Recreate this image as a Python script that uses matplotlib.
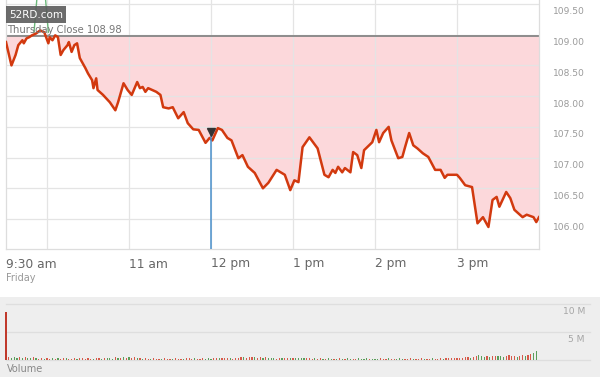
import numpy as np
import matplotlib
matplotlib.use('Agg')
import matplotlib.pyplot as plt
import matplotlib.transforms as mtransforms

# price, minutes after 9:30 am
t = [0, 4, 7, 9, 12, 13, 15, 17, 19, 22, 25, 28, 31, 32, 34, 36, 38, 40, 42, 45,
     46, 48, 50, 52, 54, 58, 60, 63, 64, 66, 67, 71, 76, 80, 82, 86, 89, 92, 96, 98,
     100, 102, 104, 107, 110, 113, 115, 119, 122, 126, 130, 133, 137, 141, 146, 149, 151, 155, 158, 162,
     165, 170, 173, 177, 182, 188, 192, 198, 204, 208, 211, 214, 217, 222, 228, 233, 236, 239, 241, 243,
     246, 248, 252, 254, 257, 260, 262, 268, 271, 273, 276, 280, 282, 287, 290, 292, 295, 298, 301, 305,
     309, 314, 318, 321, 323, 330, 332, 336, 341, 345, 349, 353, 356, 359, 361, 366, 369, 372, 376, 378,
     381, 386, 388, 390]
price = [108.88, 108.50, 108.67, 108.83, 108.91, 108.86, 108.94, 108.96, 108.99, 109.02,
         109.07, 109.04, 108.86, 108.96, 108.91, 108.99, 108.96, 108.67, 108.75, 108.83,
         108.88, 108.72, 108.83, 108.86, 108.62, 108.46, 108.37, 108.26, 108.13, 108.29,
         108.10, 108.02, 107.90, 107.77, 107.90, 108.21, 108.10, 108.02, 108.23, 108.13,
         108.15, 108.07, 108.13, 108.10, 108.07, 108.02, 107.82, 107.80, 107.82, 107.64,
         107.74, 107.56, 107.46, 107.45, 107.24, 107.32, 107.28, 107.48, 107.45, 107.32,
         107.28, 106.99, 107.04, 106.85, 106.75, 106.50, 106.59, 106.80, 106.72, 106.47,
         106.63, 106.60, 107.17, 107.33, 107.15, 106.72, 106.68, 106.80, 106.75, 106.85,
         106.76, 106.83, 106.76, 107.09, 107.04, 106.83, 107.12, 107.25, 107.45, 107.25,
         107.40, 107.50, 107.28, 106.99, 107.01, 107.17, 107.40, 107.20, 107.15, 107.07,
         107.01, 106.80, 106.80, 106.67, 106.72, 106.72, 106.67, 106.55, 106.52, 105.93,
         106.03, 105.87, 106.31, 106.36, 106.20, 106.44, 106.34, 106.15, 106.07, 106.03,
         106.07, 106.03, 105.95, 106.03]
prev_close = 108.98

# volume in millions, one bar every 2 minutes
volume = [8.5, 0.45, 0.3, 0.55, 0.35, 0.5, 0.3, 0.6, 0.4, 0.3, 0.5, 0.35, 0.25, 0.3, 0.2,
          0.3, 0.25, 0.35, 0.2, 0.3, 0.25, 0.3, 0.35, 0.2, 0.25, 0.3, 0.2, 0.3, 0.35, 0.25,
          0.3, 0.25, 0.2, 0.3, 0.35, 0.25, 0.3, 0.4, 0.3, 0.25, 0.45, 0.3, 0.35, 0.5, 0.3,
          0.45, 0.35, 0.55, 0.3, 0.4, 0.25, 0.3, 0.2, 0.25, 0.3, 0.2, 0.25, 0.2, 0.3, 0.25,
          0.2, 0.25, 0.3, 0.2, 0.25, 0.2, 0.3, 0.35, 0.25, 0.3, 0.2, 0.25, 0.3, 0.2, 0.35,
          0.25, 0.3, 0.35, 0.3, 0.4, 0.3, 0.35, 0.3, 0.25, 0.35, 0.3, 0.45, 0.5, 0.4, 0.6,
          0.45, 0.55, 0.4, 0.6, 0.35, 0.5, 0.3, 0.4, 0.3, 0.25, 0.35, 0.3, 0.4, 0.35, 0.3,
          0.35, 0.4, 0.3, 0.35, 0.3, 0.4, 0.3, 0.25, 0.3, 0.2, 0.3, 0.25, 0.2, 0.3, 0.25,
          0.2, 0.25, 0.3, 0.2, 0.25, 0.3, 0.2, 0.25, 0.2, 0.3, 0.25, 0.2, 0.3, 0.25, 0.2,
          0.25, 0.2, 0.3, 0.25, 0.2, 0.3, 0.25, 0.2, 0.25, 0.3, 0.2, 0.25, 0.2, 0.3, 0.25,
          0.2, 0.25, 0.3, 0.2, 0.25, 0.2, 0.3, 0.25, 0.2, 0.3, 0.25, 0.3, 0.35, 0.3, 0.4,
          0.35, 0.4, 0.3, 0.45, 0.5, 0.4, 0.6, 0.75, 0.9, 0.7, 0.55, 0.75, 0.6, 0.8, 0.7,
          0.65, 0.8, 0.6, 0.7, 0.85, 0.65, 0.75, 0.6, 0.8, 0.9, 0.7, 0.85, 1.0, 1.2, 1.6]
vol_dir = ("rrgggrgrggrgrrg" "rrgrgrrgrrrgrrr" "rrgrrgrgggrgrgr" "grrgrgrrgrrrgrr"
           "rgrrrgrrrgrrrgg" "grrgrrrgrrrrgrr" "rgrrgrgggrrgrrg" "rggggrrrgrrgrgg"
           "rgrgrggrrggggrg" "ggrrrgrrgggrrrg" "rrrgrrgrrrgrrrr" "rrrrrgrrgggrgrr"
           "gggrrrrgrrgrrgg")

hour_ticks = [0, 90, 150, 210, 270, 330]
hour_labels = ['9:30 am', '11 am', '12 pm', '1 pm', '2 pm', '3 pm']
grid_x = [30, 90, 150, 210, 270, 330]
price_ticks = [106.0, 106.5, 107.0, 107.5, 108.0, 108.5, 109.0, 109.5]
vol_ticks = [0, 5, 10]
vol_labels = ['', '5 M', '10 M']

news_t, news_p = 150, 107.42
hi_t1, hi_p1 = [20.5, 22.5], [109.04, 109.56]
hi_t2, hi_p2 = [29.0, 31.0], [109.56, 109.04]

t = np.array(t)
price = np.array(price)
gridc = '#e4e4e4'

fig = plt.figure(figsize=(6, 3.77), dpi=100)
ax = fig.add_axes([6/600, 128/377, 533/600, 249/377])
ax.set_xlim(0, 390)
ax.set_ylim(105.512, 109.565)

ax.fill_between(t, price, prev_close, where=price < prev_close, interpolate=True,
                color='#fcd8db', lw=0, zorder=1)
for v in price_ticks:
    ax.axhline(v, color=gridc, lw=0.9, zorder=1.5)
for v in grid_x:
    ax.axvline(v, color=gridc, lw=0.9, zorder=1.5)
ax.axhline(prev_close, color='#858585', lw=1.3, zorder=2)
ax.plot(hi_t1, hi_p1, color='#6cb87a', lw=1.0, zorder=2)
ax.plot(hi_t2, hi_p2, color='#6cb87a', lw=1.0, zorder=2)
ax.plot(t, price, color='#d2390f', lw=1.8, zorder=3, solid_joinstyle='round')
ax.vlines(news_t, 105.512, news_p, color='#4a90cc', lw=1.1, zorder=4)
ax.plot([news_t], [news_p], marker='v', color='#333333', ms=6, zorder=5)

ax.spines['top'].set_visible(False)
for s in ['left', 'right', 'bottom']:
    ax.spines[s].set_color('#dddddd')
    ax.spines[s].set_linewidth(0.9)

ax.set_xticks([])
ax.yaxis.tick_right()
ax.set_yticks(price_ticks)
ax.set_yticklabels(['%.2f' % v for v in price_ticks])
ax.tick_params(axis='y', length=0, pad=10, labelsize=6.6, labelcolor='#9a9a9a')
off = mtransforms.ScaledTranslation(0, -7/100, fig.dpi_scale_trans)
for lab in ax.get_yticklabels():
    lab.set_transform(lab.get_transform() + off)

for tk, lb in zip(hour_ticks, hour_labels):
    ax.annotate(lb, (tk, 0), xycoords=('data', 'axes fraction'), xytext=(0, -15),
                textcoords='offset pixels', ha='left', va='center', fontsize=8.8,
                color='#666666', annotation_clip=False)
ax.annotate('Friday', (0, 0), xycoords=('data', 'axes fraction'), xytext=(0, -29),
            textcoords='offset pixels', ha='left', va='center', fontsize=7,
            color='#999999', annotation_clip=False)

# watermark and previous close label
fig.text(9/600, 1 - 14.5/377, '52RD.com', color='white', fontsize=7.5, va='center', ha='left',
         bbox=dict(facecolor='#5c5c5c', edgecolor='none', pad=2.5, alpha=0.9), zorder=10)
fig.text(7/600, 1 - 30/377, 'Thursday Close %.2f' % prev_close, color='#777777', fontsize=7.2,
         va='center', ha='left', zorder=10)

# volume panel
axv = fig.add_axes([0, 0, 1, 80/377])
axv.set_facecolor('#eeeeee')
axv.set_xlim(-6/1.3667, 594/1.3667)
axv.set_ylim(-17/5.6, 63/5.6)
for v in vol_ticks:
    axv.axhline(v, xmin=6/600, xmax=590/600, color='#dedede', lw=0.9, zorder=1)
vt = np.arange(len(volume)) * 2
cols = ['#d65a4a' if c == 'r' else '#5a9e5a' for c in vol_dir]
cols[0] = '#c0392b'
axv.bar(vt, volume, width=0.9, color=cols, lw=0, zorder=2)
for v, lb in zip(vol_ticks, vol_labels):
    axv.annotate(lb, (1, v), xycoords=('axes fraction', 'data'), xytext=(-15, -7),
                 textcoords='offset pixels', ha='right', va='center', fontsize=6.6,
                 color='#a5a5a5', annotation_clip=False)
axv.text(7/600, 8/80, 'Volume', transform=axv.transAxes, fontsize=7, color='#888888',
         ha='left', va='center')
for s in axv.spines.values():
    s.set_visible(False)
axv.set_xticks([])
axv.set_yticks([])

fig.savefig('out.png', dpi=100)
